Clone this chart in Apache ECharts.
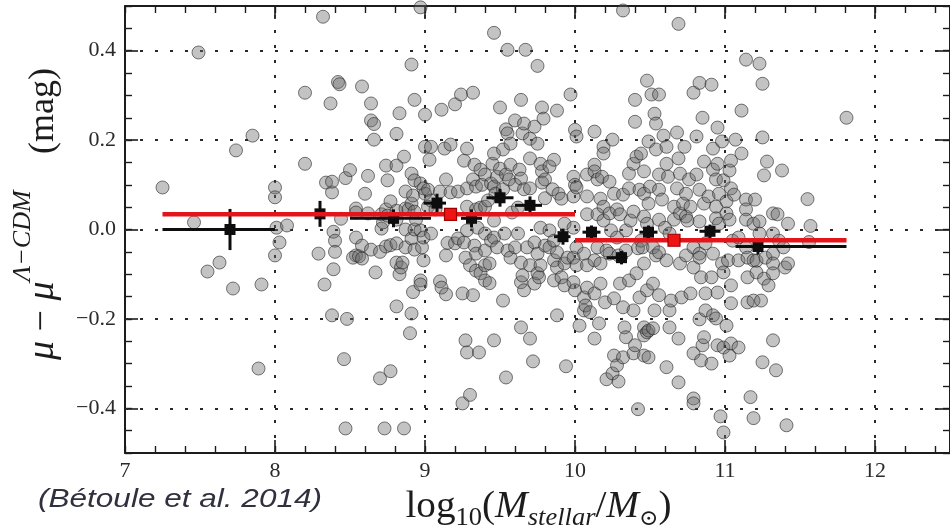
<!DOCTYPE html>
<html>
<head>
<meta charset="utf-8">
<script src="https://cdn.jsdelivr.net/npm/echarts@6/dist/echarts.min.js"></script>
<style>
  html, body { margin: 0; padding: 0; background: #ffffff; }
  #chart { width: 950px; height: 531px; }
</style>
</head>
<body>
<div id="chart"></div>
<script>
// Hubble residuals of SNe Ia versus host-galaxy stellar mass.
// Each host: [log10(M_stellar / M_sun), mu - mu_LCDM (mag)]
const hostsBelow85 = [
  [7.25,0.094],[7.46,0.016],[7.49,0.396],[7.55,-0.094],[7.63,-0.074],[7.72,-0.132],[7.74,0.177],[7.85,0.210],[7.89,-0.311],[7.91,-0.123],
  [8.00,0.094],[8.00,0.072],[8.01,0.004],[8.08,0.009],[8.03,-0.029],[8.00,-0.058],[8.20,0.306],[8.20,0.147],[8.29,-0.054],[8.32,0.476],
  [8.33,-0.123],[8.34,0.105],[8.37,0.282],[8.38,0.083],[8.38,0.107],[8.39,-0.005],[8.40,-0.025],[8.40,-0.050],[8.39,-0.089],[8.38,-0.192],
  [8.42,0.330],[8.43,0.325],[8.44,0.024],[8.46,-0.290],[8.47,0.115],[8.47,-0.445],[8.48,-0.200]
];
const hosts85to95 = [
  [8.50,0.133],[8.54,0.047],[8.54,0.038],[8.54,-0.018],[8.54,-0.058],[8.52,-0.063],[8.56,-0.060],[8.58,-0.036],[8.58,-0.065],[8.58,0.320],
  [8.60,0.080],[8.62,0.120],[8.62,0.036],[8.64,0.282],[8.64,0.244],[8.66,0.236],[8.66,0.201],[8.64,-0.045],[8.67,-0.096],[8.70,-0.050],
  [8.70,-0.333],[8.71,0.034],[8.71,0.002],[8.72,0.016],[8.73,-0.445],[8.74,0.143],[8.74,0.045],[8.74,-0.038],[8.75,0.110],[8.75,0.031],
  [8.77,0.063],[8.77,-0.317],[8.77,-0.035],[8.81,0.214],[8.81,0.143],[8.81,0.042],[8.81,0.022],[8.81,-0.031],[8.81,-0.074],[8.81,-0.172],
  [8.83,0.260],[8.83,-0.100],[8.84,-0.085],[8.85,-0.074],[8.86,0.163],[8.86,-0.445],[8.87,0.085],[8.87,0.047],[8.87,0.000],[8.87,-0.040],
  [8.89,0.045],[8.90,-0.232],[8.91,0.369],[8.91,0.125],[8.91,0.058],[8.91,-0.020],[8.91,-0.188],[8.92,0.076],[8.93,0.290],[8.93,0.110],
  [8.93,0.040],[8.93,0.000],[8.93,-0.045],[8.92,-0.140],[8.94,0.022],[8.97,0.497],[8.97,0.103],[8.97,-0.002],[8.97,-0.114],[8.97,-0.123],
  [8.98,-0.040],[8.99,0.092],[8.99,-0.018],[8.99,-0.069],[9.00,0.257],[9.00,0.185],[9.00,0.080],[9.02,0.089],[9.02,0.051],[9.03,0.156],
  [9.04,0.185],[9.04,0.065],[9.04,-0.009],[9.07,0.045],[9.10,0.085],[9.10,-0.116],[9.11,0.268],[9.11,-0.130],[9.13,0.181],[9.14,0.112],
  [9.14,-0.145],[9.14,-0.058],[9.15,-0.030],[9.17,0.190],[9.17,0.083],[9.20,0.280],[9.20,-0.031],[9.22,0.085],[9.22,-0.020],[9.24,0.302],
  [9.25,-0.143],[9.25,-0.389],[9.26,0.154],[9.26,-0.029],[9.27,-0.063],[9.27,-0.248],[9.28,0.181],[9.28,0.092],[9.28,0.051],[9.28,-0.002],
  [9.28,-0.275],[9.30,-0.370],[9.30,-0.080],[9.32,0.306],[9.32,0.112],[9.32,-0.147],[9.33,0.145],[9.33,-0.036],[9.34,0.096],[9.34,0.045],
  [9.34,-0.054],[9.34,-0.092],[9.35,0.004],[9.36,-0.275],[9.37,0.134],[9.37,0.049],[9.37,-0.098],[9.38,0.100],[9.40,0.123],[9.40,0.051],
  [9.40,-0.009],[9.40,-0.047],[9.40,-0.080],[9.40,-0.114],[9.42,0.065],[9.43,-0.076],[9.43,-0.120],[9.44,0.103],[9.44,-0.025],[9.45,0.147],
  [9.46,0.440],[9.46,0.170],[9.46,0.096],[9.46,0.020],[9.46,-0.018],[9.46,-0.248],[9.48,0.118],[9.48,-0.040],[9.47,0.080]
];
const hosts95to105 = [
  [9.50,0.273],[9.50,0.136],[9.52,0.179],[9.52,0.090],[9.52,-0.159],[9.53,-0.009],[9.54,0.224],[9.54,0.123],[9.54,-0.331],[9.55,0.402],
  [9.55,0.215],[9.55,-0.047],[9.56,0.112],[9.57,0.192],[9.57,0.145],[9.57,-0.063],[9.58,0.038],[9.60,0.244],[9.60,0.100],[9.60,-0.040],
  [9.62,0.049],[9.62,-0.009],[9.63,0.134],[9.64,0.290],[9.64,0.114],[9.64,-0.074],[9.64,-0.118],[9.64,-0.219],[9.65,0.215],[9.65,-0.103],
  [9.66,0.237],[9.66,0.090],[9.66,-0.136],[9.67,0.402],[9.68,-0.040],[9.70,0.203],[9.70,0.159],[9.70,0.092],[9.70,-0.080],[9.70,-0.244],
  [9.72,-0.295],[9.73,0.230],[9.73,-0.029],[9.73,-0.121],[9.75,0.366],[9.75,0.192],[9.75,-0.054],[9.75,-0.098],[9.76,-0.107],[9.77,0.147],
  [9.77,0.004],[9.77,-0.080],[9.78,0.273],[9.78,0.130],[9.78,0.105],[9.79,0.248],[9.80,0.112],[9.80,0.070],[9.80,-0.036],[9.83,0.141],
  [9.83,-0.002],[9.83,-0.040],[9.85,0.090],[9.86,0.156],[9.86,-0.025],[9.86,-0.069],[9.86,-0.114],[9.88,0.266],[9.88,-0.051],[9.88,-0.085],
  [9.88,-0.192],[9.89,0.080],[9.91,0.069],[9.91,-0.107],[9.93,0.013],[9.93,-0.076],[9.93,-0.125],[9.94,-0.306],[9.95,-0.063],[9.97,0.302],
  [9.99,0.118],[9.99,0.074],[9.99,0.004],[9.99,-0.063],[9.99,-0.118],[10.00,0.223],[10.00,0.100],[10.00,-0.136],[10.01,0.208],[10.01,0.094],
  [10.01,-0.040],[10.01,-0.080],[10.03,-0.215],[10.06,-0.054],[10.06,-0.152],[10.06,-0.181],[10.07,-0.170],[10.08,0.123],[10.08,0.074],[10.08,0.034],
  [10.08,-0.080],[10.08,-0.130],[10.10,-0.185],[10.13,0.219],[10.13,0.145],[10.13,0.130],[10.13,-0.069],[10.13,-0.143],[10.13,-0.244],[10.15,0.112],
  [10.15,0.034],[10.15,-0.040],[10.16,-0.210],[10.17,0.069],[10.17,-0.076],[10.17,-0.121],[10.18,0.118],[10.19,0.185],[10.19,0.170],[10.19,0.051],
  [10.19,0.020],[10.20,-0.163],[10.21,-0.047],[10.21,-0.335],[10.23,0.107],[10.23,0.036],[10.23,-0.054],[10.24,-0.002],[10.25,0.201],[10.25,-0.322],
  [10.26,0.080],[10.26,-0.154],[10.26,-0.282],[10.28,0.045],[10.28,-0.018],[10.28,-0.304],[10.29,-0.058],[10.29,-0.340],[10.30,0.034],[10.30,-0.121],
  [10.32,0.490],[10.32,0.078],[10.32,-0.174],[10.32,-0.286],[10.33,-0.219],[10.34,-0.002],[10.34,-0.047],[10.34,-0.241],[10.36,0.125],[10.36,0.092],
  [10.36,-0.114],[10.37,0.020],[10.39,0.147],[10.39,0.040],[10.39,-0.181],[10.39,-0.277],[10.40,0.290],[10.40,0.241],[10.40,-0.259],[10.41,0.163],
  [10.41,-0.098],[10.42,-0.042],[10.42,-0.402],[10.43,0.089],[10.43,-0.152],[10.44,0.170],[10.44,-0.025],[10.45,-0.040],[10.46,0.130],[10.46,0.080],
  [10.46,0.029],[10.46,-0.076],[10.46,-0.219],[10.46,-0.237],[10.46,-0.282],[10.48,0.333],[10.48,0.013],[10.48,-0.136],[10.48,-0.230]
];
const hostsAbove105 = [
  [10.49,0.197],[10.49,0.058],[10.49,-0.226],[10.49,-0.286],[10.50,0.096],[10.51,0.302],[10.52,-0.040],[10.52,-0.121],[10.52,-0.221],[10.53,0.259],
  [10.53,-0.181],[10.54,0.237],[10.54,0.179],[10.54,-0.058],[10.56,0.302],[10.56,0.123],[10.56,0.089],[10.56,0.022],[10.56,-0.051],[10.56,-0.147],
  [10.58,0.067],[10.59,0.210],[10.60,0.004],[10.61,0.185],[10.61,0.147],[10.61,-0.069],[10.61,-0.308],[10.62,0.118],[10.63,-0.009],[10.63,-0.181],
  [10.63,-0.219],[10.64,-0.159],[10.66,0.051],[10.66,0.022],[10.68,0.217],[10.68,0.092],[10.69,0.460],[10.69,0.159],[10.69,-0.244],[10.69,-0.342],
  [10.70,0.125],[10.70,0.036],[10.70,-0.076],[10.71,-0.152],[10.72,0.058],[10.73,0.185],[10.74,0.080],[10.74,0.029],[10.74,-0.058],[10.75,0.020],
  [10.76,0.112],[10.77,0.051],[10.77,-0.143],[10.79,0.306],[10.79,-0.040],[10.79,-0.085],[10.79,-0.277],[10.79,-0.378],[10.79,-0.389],[10.81,0.208],
  [10.81,0.123],[10.83,0.328],[10.83,0.089],[10.83,0.018],[10.83,-0.054],[10.83,-0.063],[10.83,-0.201],[10.84,-0.107],[10.84,-0.293],[10.85,0.250],
  [10.85,-0.259],[10.86,0.152],[10.86,0.058],[10.86,-0.241],[10.87,-0.031],[10.87,-0.143],[10.87,-0.181],[10.89,0.074],[10.91,0.324],[10.91,-0.107],
  [10.91,-0.300],[10.92,0.181],[10.92,0.134],[10.92,-0.054],[10.92,-0.192],[10.94,0.112],[10.94,0.051],[10.94,0.025],[10.94,-0.199],[10.95,0.228],
  [10.95,0.147],[10.95,-0.141],[10.95,-0.259],[10.96,0.080],[10.96,0.013],[10.97,-0.418],[10.98,0.197],[10.98,-0.076],[10.99,0.110],[10.99,-0.096],
  [10.99,-0.264],[10.99,-0.454],[11.01,0.063],[11.01,0.036],[11.01,-0.215],[11.02,-0.069],[11.03,0.132],[11.03,0.022],[11.03,-0.282],[11.04,0.154],
  [11.04,0.092],[11.04,-0.125],[11.04,-0.165],[11.04,-0.255],[11.05,-0.025],[11.06,0.078],[11.07,0.201],[11.09,-0.018],[11.09,-0.069],[11.09,-0.264],
  [11.11,0.266],[11.11,0.170],[11.14,0.380],[11.14,0.067],[11.14,0.045],[11.14,0.022],[11.14,-0.040],[11.15,-0.063],[11.15,-0.107],[11.15,-0.163],
  [11.17,-0.375],[11.19,0.013],[11.19,-0.069],[11.19,-0.159],[11.19,-0.422],[11.20,0.067],[11.21,-0.070],[11.21,-0.096],[11.23,0.371],[11.23,0.018],
  [11.23,-0.009],[11.24,-0.159],[11.25,0.326],[11.25,0.206],[11.25,-0.297],[11.26,0.121],[11.26,-0.110],[11.27,-0.063],[11.28,0.152],[11.29,-0.125],
  [11.32,0.036],[11.32,-0.009],[11.32,-0.054],[11.32,-0.076],[11.32,-0.098],[11.32,-0.248],[11.34,-0.315],[11.35,0.034],[11.36,-0.025],[11.38,0.132],
  [11.39,-0.040],[11.40,-0.085],[11.41,-0.438],[11.42,0.013],[11.42,-0.076],[11.55,0.068],[11.57,0.008],[11.56,-0.028],[11.81,0.250]
];

// Binned means (black): centre, mean residual, bin edges, error on the mean
const binMass = [7.70, 8.30, 8.79, 9.08, 9.31, 9.50, 9.70, 9.92, 10.11, 10.31, 10.49, 10.90, 11.22];
const binResid = [0.000, 0.035, 0.025, 0.059, 0.025, 0.071, 0.054, -0.016, -0.006, -0.063, -0.006, -0.004, -0.038];
const binLow = [7.25, 8.00, 8.50, 8.99, 9.24, 9.41, 9.60, 9.86, 10.05, 10.21, 10.43, 10.83, 11.07];
const binHigh = [8.00, 8.50, 9.04, 9.14, 9.38, 9.59, 9.78, 9.97, 10.17, 10.35, 10.55, 10.97, 11.81];
const binErr = [0.046, 0.029, 0.020, 0.021, 0.020, 0.020, 0.020, 0.018, 0.015, 0.015, 0.015, 0.015, 0.018];

// Mass step (red): low-mass and high-mass host averages
const stepMass = [9.17, 10.66];
const stepLevel = [0.034, -0.024];
const stepLow = [7.25, 10.00];
const stepHigh = [10.00, 11.81];

// Axis ticks and labels
const xMajorTicks = [7, 8, 9, 10, 11, 12];
const xTickLabels = ['7', '8', '9', '10', '11', '12'];
const yMajorTicks = [-0.4, -0.2, 0, 0.2, 0.4];
const yTickLabels = ['\u22120.4', '\u22120.2', '0.0', '0.2', '0.4'];
const xGridLines = [8, 9, 10, 11, 12];
const yGridLines = [-0.4, -0.2, 0, 0.2, 0.4];

const SERIF = '"Liberation Serif", "DejaVu Serif", serif';
const INK = '#1c1c1c';

const chart = echarts.init(document.getElementById('chart'), null, { renderer: 'canvas' });

const measureCtx = document.createElement('canvas').getContext('2d');
function textWidth(text, font) {
  measureCtx.font = font;
  return measureCtx.measureText(text).width;
}
// Lays out a run of text pieces on a common baseline (local y = 0).
function textRun(parts, color) {
  let x = 0;
  const children = [];
  parts.forEach(function (p) {
    const font = (p.italic ? 'italic ' : '') + p.size + 'px ' + SERIF;
    children.push({
      type: 'text', x: x, y: (p.shift || 0) - 0.34 * p.size, silent: true,
      style: { text: p.text, font: font, fill: color, textAlign: 'left', textVerticalAlign: 'middle', align: 'left', verticalAlign: 'middle' }
    });
    x += textWidth(p.text, font);
  });
  return { children: children, width: x };
}

// x-axis title: log10(M_stellar / M_sun)
const xTitle = textRun([
  { text: 'log', size: 37 },
  { text: '10', size: 25, shift: 7 },
  { text: '(', size: 37 },
  { text: 'M', size: 37, italic: true },
  { text: 'stellar', size: 25, italic: true, shift: 7 },
  { text: '/', size: 37 },
  { text: 'M', size: 37, italic: true },
  { text: '\u2299', size: 22, shift: 7 },
  { text: ')', size: 37 }
], INK);
const xTitleStretch = 1.06;

// y-axis title: mu - mu^{Lambda-CDM}   (mag), reading upwards
const yMain = textRun([
  { text: '\u03bc', size: 38, italic: true },
  { text: ' \u2212 ', size: 38 },
  { text: '\u03bc', size: 38, italic: true },
  { text: '\u039b\u2212CDM', size: 26, italic: true, shift: -24 }
], INK);
const magFont = '36px ' + SERIF;
const magWidth = textWidth('(mag)', magFont);
const yTitleChildren = yMain.children.concat([{
  type: 'text', x: 292 - magWidth, y: -0.34 * 36, silent: true,
  style: { text: '(mag)', font: magFont, fill: INK, textAlign: 'left', textVerticalAlign: 'middle', align: 'left', verticalAlign: 'middle' }
}]);

function tickAxisX(position, major) {
  return {
    type: 'value', position: position, min: 7, max: 12.5, interval: major ? 1 : 0.2,
    axisLine: { show: major, onZero: false, lineStyle: { color: INK, width: 2 } },
    axisTick: major
      ? { show: true, inside: true, length: 13, customValues: xMajorTicks, lineStyle: { color: INK, width: 1.6 } }
      : { show: true, inside: true, length: 7, lineStyle: { color: INK, width: 1.4 } },
    axisLabel: (major && position === 'bottom')
      ? { show: true, customValues: xMajorTicks, margin: 7, fontFamily: SERIF, fontSize: 22, color: '#2a2a2a',
          formatter: function (v) { const i = xMajorTicks.findIndex(t => Math.abs(t - v) < 1e-6); return i >= 0 ? xTickLabels[i] : ''; } }
      : { show: false },
    splitLine: { show: false }
  };
}
function tickAxisY(position, major) {
  return {
    type: 'value', position: position, min: -0.5, max: 0.5, interval: major ? 0.1 : 0.05,
    axisLine: { show: major, onZero: false, lineStyle: { color: INK, width: 2 } },
    axisTick: major
      ? { show: true, inside: true, length: 13, customValues: yMajorTicks, lineStyle: { color: INK, width: 1.6 } }
      : { show: true, inside: true, length: 7, lineStyle: { color: INK, width: 1.4 } },
    axisLabel: (major && position === 'left')
      ? { show: true, customValues: yMajorTicks, margin: 9, fontFamily: SERIF, fontSize: 22, color: '#2a2a2a',
          formatter: function (v) { const i = yMajorTicks.findIndex(t => Math.abs(t - v) < 1e-6); return i >= 0 ? yTickLabels[i] : ''; } }
      : { show: false },
    splitLine: { show: false }
  };
}

// Error-bar glyph: horizontal bin extent, vertical error, square marker
function binGlyph(color, square, lineW, border) {
  return function (params, api) {
    const x = api.value(0), y = api.value(1), lo = api.value(2), hi = api.value(3), e = api.value(4);
    const c = api.coord([x, y]);
    const a = api.coord([lo, y]);
    const b = api.coord([hi, y]);
    const children = [
      { type: 'line', shape: { x1: a[0], y1: a[1], x2: b[0], y2: b[1] }, style: { stroke: color, lineWidth: lineW } }
    ];
    if (e > 0) {
      const t = api.coord([x, y + e]);
      const d = api.coord([x, y - e]);
      children.push({ type: 'line', shape: { x1: t[0], y1: t[1], x2: d[0], y2: d[1] }, style: { stroke: color, lineWidth: 3 } });
    }
    children.push({
      type: 'rect', shape: { x: c[0] - square / 2, y: c[1] - square / 2, width: square, height: square },
      style: { fill: border ? '#f01515' : color, stroke: border || null, lineWidth: border ? 1.2 : 0 }
    });
    return { type: 'group', children: children };
  };
}

const allHosts = hostsBelow85.concat(hosts85to95, hosts95to105, hostsAbove105);
const binData = binMass.map((m, i) => [m, binResid[i], binLow[i], binHigh[i], binErr[i]]);
const stepData = stepMass.map((m, i) => [m, stepLevel[i], stepLow[i], stepHigh[i], 0]);

const creditFont = 'italic 26px "Liberation Sans", Arial, sans-serif';
const creditText = '(B\u00e9toule et al. 2014)';
const creditStretch = 284 / textWidth(creditText, creditFont);

chart.setOption({
  animation: false,
  backgroundColor: '#ffffff',
  grid: { left: 125, top: 6, width: 830.5, height: 447, containLabel: false },
  xAxis: [tickAxisX('bottom', true), tickAxisX('bottom', false), tickAxisX('top', true), tickAxisX('top', false)],
  yAxis: [tickAxisY('left', true), tickAxisY('left', false), tickAxisY('right', true), tickAxisY('right', false)],
  series: [
    {
      type: 'line', data: [], silent: true, z: 1,
      markLine: {
        silent: true, z: 1, symbol: ['none', 'none'], label: { show: false }, animation: false,
        lineStyle: { type: [3, 12], color: '#2a2a2a', width: 2 },
        emphasis: { disabled: true },
        data: xGridLines.map(v => ({ xAxis: v })).concat(yGridLines.map(v => ({ yAxis: v })))
      }
    },
    {
      type: 'scatter', data: allHosts, symbol: 'circle', symbolSize: 13, z: 2, silent: true,
      itemStyle: { color: 'rgba(105,105,105,0.5)', borderColor: 'rgba(35,35,35,0.75)', borderWidth: 1 }
    },
    {
      type: 'custom', data: binData, z: 3, silent: true, clip: false,
      encode: { x: 0, y: 1 },
      renderItem: binGlyph('#0d0d0d', 11, 3, null)
    },
    {
      type: 'custom', data: stepData, z: 4, silent: true, clip: false,
      encode: { x: 0, y: 1 },
      renderItem: binGlyph('#e3151b', 12, 4.5, '#a00000')
    }
  ],
  graphic: {
    elements: [
      { type: 'group', x: 538.5 - xTitleStretch * xTitle.width / 2, y: 520, scaleX: xTitleStretch, silent: true, children: xTitle.children },
      { type: 'group', x: 56, y: 360, rotation: Math.PI / 2, silent: true, children: yTitleChildren },
      {
        type: 'text', x: 38, y: 500, scaleX: creditStretch, silent: true,
        style: { text: creditText, font: creditFont,
                 fill: '#30303e', textAlign: 'left', textVerticalAlign: 'middle', align: 'left', verticalAlign: 'middle' }
      }
    ]
  }
});
</script>
</body>
</html>
